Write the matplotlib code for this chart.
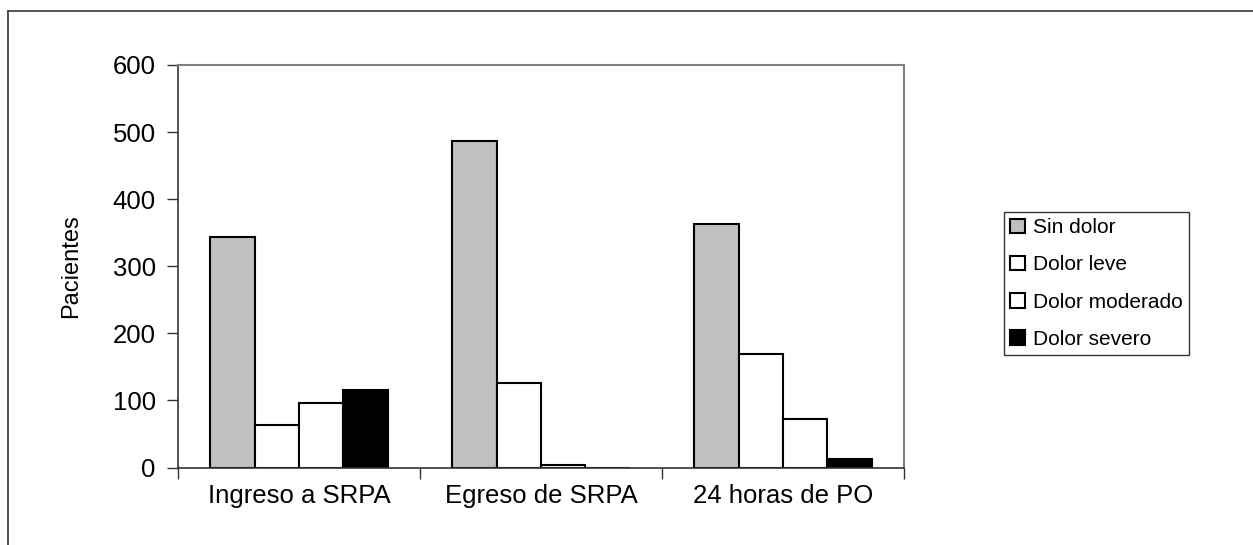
import numpy as np
import matplotlib
matplotlib.use("Agg")
import matplotlib.pyplot as plt
from matplotlib.lines import Line2D

plt.rcParams['font.family'] = ['Liberation Sans', 'DejaVu Sans']

categorias = ["Ingreso a SRPA", "Egreso de SRPA", "24 horas de PO"]
series = ["Sin dolor", "Dolor leve", "Dolor moderado", "Dolor severo"]
sin_dolor = [344, 487, 363]
dolor_leve = [64, 126, 169]
dolor_moderado = [96, 3, 73]
dolor_severo = [115, 0, 13]
colores = ["#C0C0C0", "white", "white", "black"]

valores = [sin_dolor, dolor_leve, dolor_moderado, dolor_severo]

W, H = 1253, 545
fig = plt.figure(figsize=(W / 100, H / 100), dpi=100)

# marco exterior (solo se ve arriba e izquierda)
fig.add_artist(Line2D([8 / W, 1], [1 - 11 / H, 1 - 11 / H], color="#444444", lw=1.3))
fig.add_artist(Line2D([8 / W, 8 / W], [0, 1 - 11 / H], color="#444444", lw=1.3))

ax = fig.add_axes([178 / W, 77.5 / H, 726 / W, 402.5 / H])

x = np.arange(len(categorias))
w = 0.734 / 4
for i in range(4):
    ax.bar(x + (i - 1.5) * w, valores[i], w, color=colores[i], edgecolor="black",
           linewidth=1.5, label=series[i], zorder=3)

ax.set_xlim(-0.5, 2.5)
ax.set_ylim(0, 600)
ax.set_yticks(range(0, 601, 100))
ax.set_xticks([-0.5, 0.5, 1.5, 2.5])
ax.set_xticklabels([])
ax.set_xticks(x, minor=True)
ax.set_xticklabels(categorias, minor=True)
ax.tick_params(axis="x", which="minor", length=0, pad=12, labelsize=18.5)
ax.tick_params(axis="x", which="major", direction="out", length=8, width=1, color="#333333")
ax.tick_params(axis="y", direction="out", length=8, width=1, color="#333333", labelsize=18.5, pad=8)

for s in ["top", "right"]:
    ax.spines[s].set_color("#808080")
    ax.spines[s].set_linewidth(1.5)
for s in ["left", "bottom"]:
    ax.spines[s].set_color("#333333")
    ax.spines[s].set_linewidth(1.2)
ax.spines["bottom"].set_zorder(4)

ax.set_ylabel("Pacientes", fontsize=17, labelpad=22)

leg = fig.legend(loc="center left", bbox_to_anchor=(1004 / W, 1 - 283.5 / H),
                 fontsize=15, frameon=True, fancybox=False, edgecolor="black",
                 handlelength=0.7, handleheight=0.7, handletextpad=0.4,
                 labelspacing=0.87, borderpad=0.3, borderaxespad=0)
leg.get_frame().set_linewidth(1.0)

fig.savefig("out.png", dpi=100)
